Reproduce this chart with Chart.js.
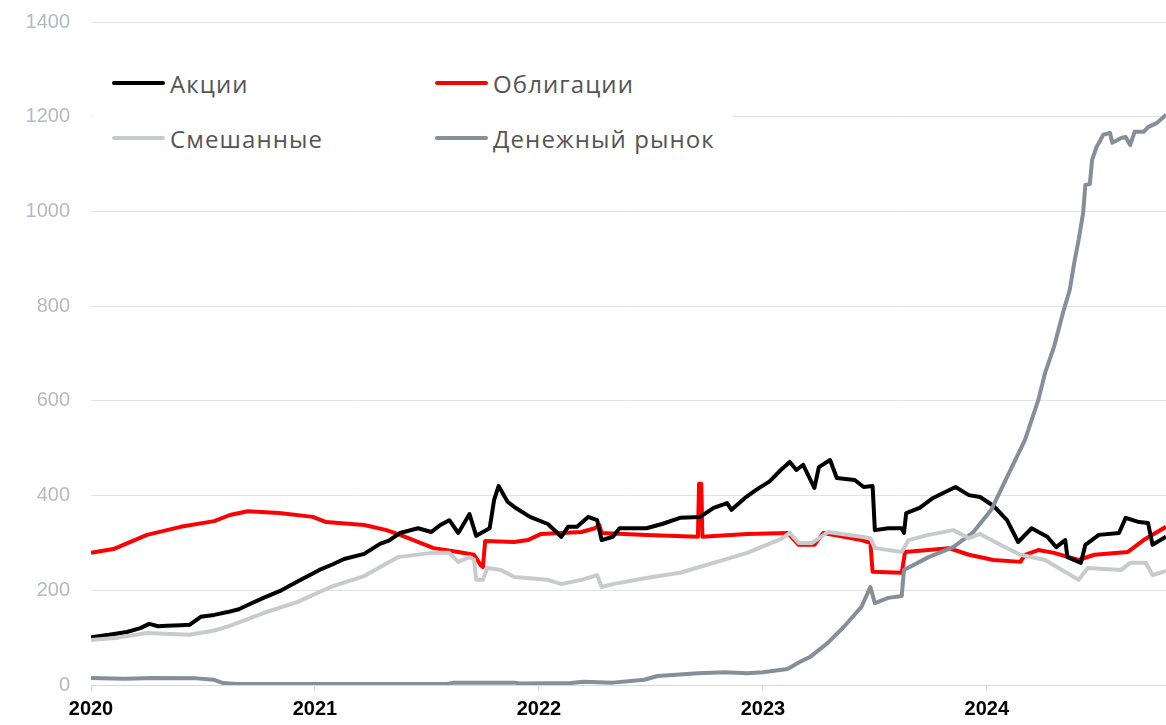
<!DOCTYPE html>
<html>
<head>
<meta charset="utf-8">
<script src="https://cdn.jsdelivr.net/npm/chart.js@4.4.1/dist/chart.umd.min.js"></script>
<style>
  html, body { margin: 0; padding: 0; background: #fff; }
  #wrap { position: relative; width: 1166px; height: 725px; }
  #legend {
    position: absolute; left: 92px; top: 48px; width: 640px; height: 122px;
    background: #fff; font-family: "Open Sans", sans-serif; font-size: 24px; color: #555;
    letter-spacing: 1.1px;
  }
  .item { position: absolute; display: flex; align-items: center; }
  .item span.sw { display: inline-block; width: 53px; height: 4px; border-radius: 2px; margin-right: 5px; }
</style>
</head>
<body>
<div id="wrap">
  <canvas id="chart" width="1166" height="725"></canvas>
  <div id="legend"></div>
</div>
<script>
// x values are fractional years
var yearTicks = [2020, 2021, 2022, 2023, 2024];
var yTicks = [0, 200, 400, 600, 800, 1000, 1200, 1400];

var seriesNames = ['Акции', 'Облигации', 'Смешанные', 'Денежный рынок'];
var seriesColors = ['#000000', '#ff0000', '#c8cbce', '#858f99'];

var stocksT = [2020.00, 2020.08, 2020.16, 2020.22, 2020.26, 2020.30, 2020.34, 2020.40, 2020.44, 2020.49,
  2020.55, 2020.61, 2020.66, 2020.70, 2020.77, 2020.85, 2020.92, 2021.02, 2021.08, 2021.13,
  2021.22, 2021.29, 2021.33, 2021.38, 2021.46, 2021.52, 2021.56, 2021.60, 2021.64, 2021.69,
  2021.72, 2021.78, 2021.80, 2021.82, 2021.86, 2021.89, 2021.96, 2022.04, 2022.10, 2022.13,
  2022.17, 2022.22, 2022.26, 2022.28, 2022.33, 2022.36, 2022.48, 2022.55, 2022.63, 2022.72,
  2022.78, 2022.84, 2022.86, 2022.92, 2022.97, 2023.03, 2023.08, 2023.12, 2023.15, 2023.18,
  2023.23, 2023.25, 2023.30, 2023.33, 2023.41, 2023.45, 2023.49, 2023.50, 2023.56, 2023.62,
  2023.63, 2023.64, 2023.70, 2023.76, 2023.86, 2023.92, 2023.97, 2024.03, 2024.09, 2024.14,
  2024.20, 2024.27, 2024.31, 2024.35, 2024.36, 2024.42, 2024.44, 2024.50, 2024.59, 2024.62,
  2024.68, 2024.72, 2024.74, 2024.80];
var stocksV = [101, 106, 112, 120, 129, 124, 125, 126, 127, 144,
  148, 154, 160, 169, 184, 200, 218, 243, 255, 266,
  277, 298, 305, 321, 331, 323, 338, 348, 321, 361,
  315, 331, 391, 420, 387, 376, 355, 340, 313, 334,
  334, 355, 348, 306, 313, 331, 331, 340, 353, 355,
  374, 384, 370, 395, 412, 430, 454, 471, 454, 465,
  416, 460, 475, 437, 433, 418, 420, 327, 331, 331,
  321, 363, 374, 395, 418, 401, 397, 378, 348, 302,
  331, 313, 291, 306, 270, 258, 296, 317, 321, 353,
  344, 342, 296, 313];

var bondsT = [2020.00, 2020.10, 2020.25, 2020.40, 2020.55, 2020.62, 2020.70, 2020.84, 2020.99, 2021.05,
  2021.22, 2021.32, 2021.38, 2021.53, 2021.64, 2021.71, 2021.74, 2021.75, 2021.76, 2021.89,
  2021.95, 2022.01, 2022.19, 2022.25, 2022.27, 2022.28, 2022.48, 2022.71, 2022.715, 2022.725,
  2022.73, 2022.93, 2023.11, 2023.16, 2023.23, 2023.27, 2023.44, 2023.48, 2023.49, 2023.62,
  2023.635, 2023.83, 2023.92, 2024.03, 2024.15, 2024.17, 2024.23, 2024.30, 2024.41, 2024.48,
  2024.63, 2024.70, 2024.80];
var bondsV = [279, 287, 317, 334, 346, 359, 367, 363, 355, 344,
  338, 327, 317, 289, 281, 275, 253, 249, 304, 302,
  306, 319, 323, 331, 338, 321, 317, 313, 425, 425,
  313, 319, 321, 296, 296, 321, 306, 300, 239, 237,
  281, 289, 275, 264, 260, 275, 285, 279, 264, 275,
  281, 306, 334];

var mixedT = [2020.00, 2020.12, 2020.25, 2020.44, 2020.55, 2020.62, 2020.77, 2020.92, 2021.07, 2021.22,
  2021.37, 2021.52, 2021.60, 2021.64, 2021.69, 2021.71, 2021.72, 2021.75, 2021.77, 2021.83,
  2021.89, 2022.04, 2022.10, 2022.19, 2022.26, 2022.28, 2022.33, 2022.48, 2022.63, 2022.78,
  2022.93, 2023.08, 2023.12, 2023.16, 2023.22, 2023.29, 2023.44, 2023.48, 2023.50, 2023.62,
  2023.65, 2023.74, 2023.85, 2023.92, 2023.97, 2024.06, 2024.15, 2024.26, 2024.41, 2024.45,
  2024.60, 2024.64, 2024.71, 2024.74, 2024.80];
var mixedV = [95, 100, 110, 106, 115, 125, 152, 175, 207, 230,
  270, 279, 279, 260, 270, 265, 222, 222, 247, 243,
  228, 222, 213, 222, 232, 207, 213, 226, 237, 258,
  279, 308, 321, 300, 300, 323, 313, 310, 289, 281,
  306, 317, 327, 310, 319, 296, 275, 264, 222, 247,
  243, 258, 258, 232, 241];

var moneyT = [2020.00, 2020.15, 2020.28, 2020.47, 2020.55, 2020.59, 2020.65, 2021.59, 2021.62, 2021.89,
  2021.92, 2022.14, 2022.20, 2022.33, 2022.47, 2022.53, 2022.71, 2022.83, 2022.93, 2023.00,
  2023.11, 2023.17, 2023.21, 2023.29, 2023.36, 2023.44, 2023.48, 2023.50, 2023.56, 2023.62,
  2023.63, 2023.74, 2023.85, 2023.94, 2024.02, 2024.09, 2024.17, 2024.23, 2024.26, 2024.30,
  2024.34, 2024.37, 2024.39, 2024.41, 2024.43, 2024.44, 2024.46, 2024.47, 2024.49, 2024.52,
  2024.55, 2024.56, 2024.60, 2024.62, 2024.64, 2024.66, 2024.70, 2024.72, 2024.76, 2024.80];
var moneyV = [15, 13, 15, 14, 11, 4, 2, 2, 5, 5,
  3, 4, 7, 5, 11, 19, 25, 27, 25, 27,
  34, 50, 59, 89, 122, 165, 207, 173, 184, 188,
  243, 270, 291, 323, 370, 439, 517, 602, 659, 714,
  786, 834, 891, 940, 997, 1056, 1058, 1109, 1136, 1162,
  1166, 1145, 1155, 1157, 1140, 1168, 1168, 1178, 1187, 1204];

function pts(ts, vs) {
  return ts.map(function(t, i) { return {x: t, y: vs[i]}; });
}

function ds(idx, ts, vs) {
  return {
    label: seriesNames[idx],
    data: pts(ts, vs),
    borderColor: seriesColors[idx],
    backgroundColor: seriesColors[idx],
    borderWidth: 4,
    pointRadius: 0,
    tension: 0,
    borderJoinStyle: 'round'
  };
}

var ctx = document.getElementById('chart').getContext('2d');
var chart = new Chart(ctx, {
  type: 'line',
  data: {
    datasets: [
      ds(2, mixedT, mixedV),
      ds(3, moneyT, moneyV),
      ds(0, stocksT, stocksV),
      ds(1, bondsT, bondsV)
    ]
  },
  options: {
    responsive: false,
    animation: false,
    layout: { padding: { top: 22, right: 0, left: 0, bottom: 0 } },
    plugins: { legend: { display: false }, tooltip: { enabled: false } },
    scales: {
      x: {
        type: 'linear',
        min: 2020,
        max: 2024.80,
        afterBuildTicks: function(scale) {
          scale.ticks = yearTicks.map(function(v) { return {value: v}; });
        },
        afterFit: function(scale) {
          scale.height = 40;
          scale.paddingLeft = 0;
          scale.paddingRight = 0;
        },
        grid: { drawOnChartArea: false, drawTicks: true, tickLength: 6, color: '#d9d9d9' },
        border: { display: true, color: '#d9d9d9' },
        ticks: {
          padding: 6,
          maxRotation: 0,
          color: '#000',
          font: { family: 'Liberation Sans', size: 20, weight: 'bold' },
          callback: function(v) { return String(v); }
        }
      },
      y: {
        min: 0,
        max: 1400,
        afterBuildTicks: function(scale) {
          scale.ticks = yTicks.map(function(v) { return {value: v}; });
        },
        afterFit: function(scale) {
          scale.width = 91;
          scale.paddingTop = 0;
          scale.paddingBottom = 0;
        },
        grid: { color: '#e3e3e3', drawTicks: false },
        border: { display: false },
        ticks: {
          padding: 21,
          color: '#b3bac2',
          font: { family: 'Liberation Sans', size: 20 },
          callback: function(v) { return String(v); }
        }
      }
    }
  }
});

// legend overlay, 2 x 2
var legend = document.getElementById('legend');
var legPos = [[20, 35], [343, 35], [20, 90], [343, 90]];
var legOrder = [0, 1, 2, 3];
legOrder.forEach(function(idx, k) {
  var el = document.createElement('div');
  el.className = 'item';
  el.style.left = legPos[k][0] + 'px';
  el.style.top = (legPos[k][1] - 17) + 'px';
  el.style.height = '34px';
  el.innerHTML = '<span class="sw" style="background:' + seriesColors[idx] + '"></span><span>' + seriesNames[idx] + '</span>';
  legend.appendChild(el);
});
</script>
</body>
</html>
